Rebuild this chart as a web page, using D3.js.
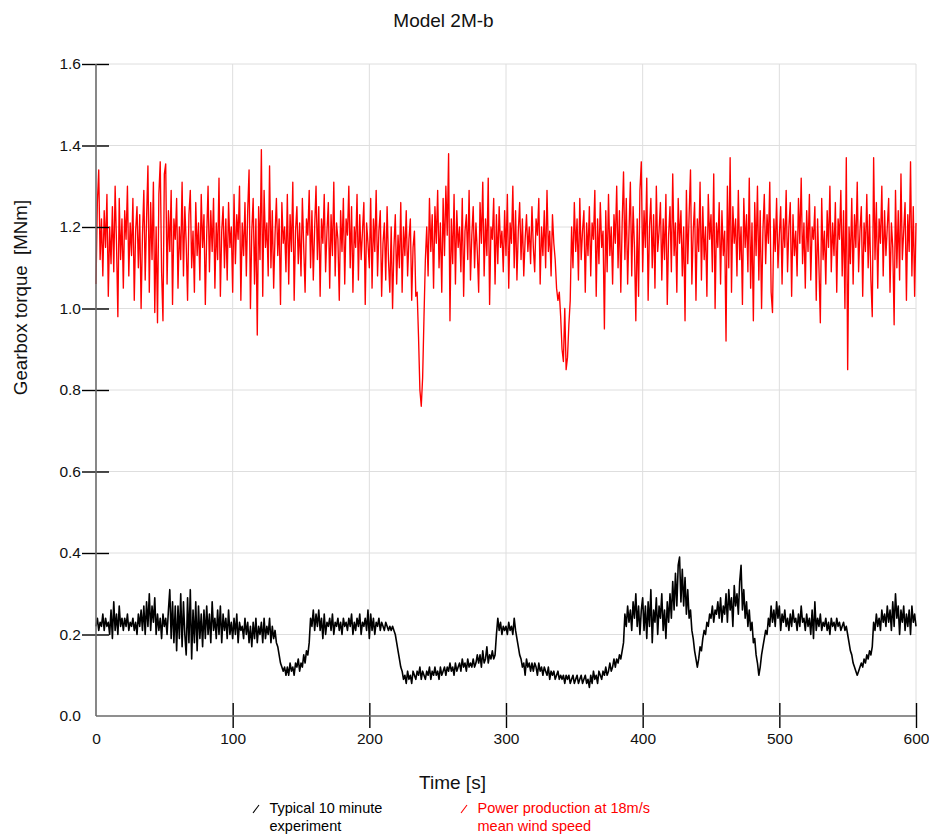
<!DOCTYPE html>
<meta charset="utf-8">
<style>

html,
body {
  margin: 0;
  overflow: hidden;
  background: #fff;
}

text {
  font-family: "Liberation Sans", Arial, sans-serif;
}

.grid line {
  stroke: #dedede;
  stroke-width: 1;
}

.trace {
  fill: none;
  stroke-linejoin: round;
}

</style>
<body>
<script src="https://d3js.org/d3.v7.min.js"></script>
<script>

// one sample per second, 0 .. 600 s
var sampleStep = 1;

var xTicks = [0, 100, 200, 300, 400, 500, 600];
var yTicks = [0, 0.2, 0.4, 0.6, 0.8, 1.0, 1.2, 1.4, 1.6];

// typical 10 minute experiment (MNm)
var experimentTorque = [
  0.22,0.24,0.21,0.23,0.22,0.25,0.21,0.24,0.22,0.23,0.20,0.26,0.19,0.28,0.21,0.25,0.20,0.27,0.22,0.24, // 0
  0.21,0.24,0.22,0.25,0.21,0.23,0.22,0.24,0.21,0.23,0.20,0.25,0.22,0.26,0.21,0.27,0.20,0.28,0.22,0.30, // 20
  0.21,0.27,0.23,0.29,0.20,0.25,0.21,0.24,0.19,0.25,0.22,0.24,0.20,0.26,0.31,0.19,0.28,0.18,0.27,0.16, // 40
  0.27,0.19,0.30,0.17,0.28,0.20,0.15,0.29,0.18,0.31,0.14,0.26,0.18,0.28,0.16,0.27,0.19,0.25,0.17,0.26, // 60
  0.19,0.27,0.20,0.25,0.18,0.28,0.21,0.24,0.19,0.26,0.20,0.27,0.18,0.25,0.21,0.24,0.19,0.26,0.20,0.23, // 80
  0.19,0.24,0.20,0.25,0.18,0.23,0.21,0.22,0.19,0.24,0.20,0.23,0.18,0.22,0.17,0.23,0.19,0.24,0.18,0.22, // 100
  0.20,0.23,0.18,0.24,0.19,0.22,0.20,0.24,0.18,0.22,0.19,0.21,0.18,0.17,0.15,0.13,0.12,0.11,0.12,0.10, // 120
  0.12,0.10,0.13,0.11,0.12,0.10,0.13,0.12,0.14,0.11,0.13,0.12,0.15,0.13,0.16,0.15,0.18,0.24,0.22,0.26, // 140
  0.21,0.25,0.22,0.26,0.21,0.24,0.19,0.25,0.20,0.23,0.22,0.24,0.21,0.25,0.20,0.23,0.22,0.24,0.21,0.23, // 160
  0.20,0.24,0.22,0.23,0.21,0.24,0.22,0.25,0.20,0.23,0.21,0.24,0.22,0.25,0.20,0.23,0.22,0.24,0.21,0.26, // 180
  0.19,0.25,0.21,0.24,0.20,0.23,0.22,0.24,0.21,0.23,0.22,0.21,0.23,0.22,0.21,0.22,0.21,0.22,0.21,0.20, // 200
  0.18,0.16,0.14,0.12,0.11,0.09,0.10,0.08,0.11,0.09,0.10,0.08,0.11,0.10,0.09,0.11,0.10,0.12,0.09,0.11, // 220
  0.10,0.09,0.11,0.10,0.12,0.09,0.11,0.10,0.12,0.10,0.11,0.09,0.12,0.10,0.11,0.12,0.10,0.12,0.11,0.13, // 240
  0.11,0.12,0.10,0.13,0.11,0.12,0.13,0.11,0.14,0.12,0.13,0.11,0.14,0.12,0.13,0.12,0.14,0.12,0.13,0.15, // 260
  0.13,0.15,0.12,0.16,0.13,0.14,0.17,0.13,0.15,0.14,0.16,0.14,0.15,0.20,0.24,0.21,0.23,0.20,0.22,0.21, // 280
  0.22,0.20,0.23,0.21,0.22,0.20,0.24,0.21,0.19,0.17,0.15,0.14,0.12,0.13,0.10,0.14,0.12,0.13,0.11,0.13, // 300
  0.11,0.13,0.12,0.10,0.13,0.11,0.12,0.10,0.12,0.11,0.10,0.12,0.09,0.11,0.10,0.11,0.09,0.10,0.11,0.09, // 320
  0.10,0.09,0.10,0.08,0.10,0.09,0.10,0.08,0.09,0.10,0.08,0.09,0.10,0.08,0.09,0.10,0.08,0.09,0.10,0.08, // 340
  0.09,0.07,0.10,0.08,0.11,0.09,0.10,0.08,0.11,0.10,0.09,0.11,0.10,0.12,0.10,0.11,0.13,0.11,0.12,0.14, // 360
  0.12,0.14,0.13,0.15,0.14,0.16,0.18,0.25,0.22,0.27,0.23,0.26,0.21,0.28,0.24,0.30,0.22,0.27,0.20,0.26, // 380
  0.29,0.21,0.27,0.19,0.28,0.22,0.31,0.18,0.26,0.23,0.29,0.20,0.27,0.24,0.30,0.21,0.26,0.19,0.28,0.23, // 400
  0.30,0.24,0.33,0.26,0.35,0.27,0.37,0.39,0.28,0.36,0.27,0.34,0.25,0.31,0.24,0.26,0.21,0.19,0.16,0.14, // 420
  0.12,0.14,0.17,0.16,0.19,0.21,0.20,0.23,0.22,0.25,0.24,0.27,0.23,0.26,0.25,0.28,0.24,0.29,0.23,0.27, // 440
  0.25,0.30,0.23,0.31,0.26,0.29,0.22,0.32,0.27,0.30,0.25,0.33,0.37,0.26,0.31,0.24,0.28,0.22,0.26,0.21, // 460
  0.23,0.18,0.19,0.15,0.13,0.10,0.12,0.15,0.17,0.19,0.21,0.20,0.24,0.22,0.27,0.23,0.26,0.22,0.28,0.24, // 480
  0.27,0.21,0.25,0.23,0.26,0.22,0.24,0.21,0.25,0.22,0.26,0.23,0.24,0.21,0.25,0.22,0.27,0.23,0.24,0.21, // 500
  0.25,0.22,0.24,0.20,0.26,0.19,0.28,0.21,0.24,0.22,0.25,0.21,0.23,0.22,0.24,0.21,0.23,0.20,0.24,0.22, // 520
  0.23,0.21,0.24,0.22,0.23,0.21,0.22,0.23,0.21,0.22,0.20,0.18,0.16,0.15,0.13,0.12,0.11,0.10,0.11,0.12, // 540
  0.13,0.12,0.14,0.13,0.15,0.14,0.16,0.15,0.17,0.23,0.21,0.25,0.22,0.24,0.21,0.26,0.23,0.25,0.22,0.27, // 560
  0.23,0.26,0.21,0.28,0.22,0.30,0.24,0.27,0.20,0.26,0.23,0.27,0.21,0.25,0.22,0.26,0.20,0.27,0.23,0.25, // 580
  0.22
];

// power production at 18 m/s mean wind speed (MNm)
var powerTorque = [
  1.06,1.26,1.34,1.12,1.22,1.08,1.24,1.15,1.28,1.03,1.20,1.11,1.25,1.09,1.30,1.16,0.98,1.27,1.12,1.22, // 0
  1.05,1.24,1.17,1.30,1.08,1.21,1.13,1.27,1.02,1.19,1.25,1.10,1.23,1.00,1.18,1.29,1.07,1.22,1.35,1.04, // 20
  1.26,1.12,1.31,0.99,1.20,0.965,1.28,1.36,1.09,0.97,1.33,1.355,1.06,1.24,1.14,1.29,1.01,1.22,1.17,1.27, // 40
  1.05,1.20,1.12,1.31,1.08,1.25,1.16,1.02,1.23,1.29,1.10,1.19,1.04,1.26,1.13,1.21,1.07,1.28,1.15,1.23, // 60
  1.01,1.18,1.30,1.09,1.24,1.14,1.27,1.05,1.21,1.12,1.32,1.03,1.19,1.25,1.10,1.22,1.07,1.26,1.15,1.20, // 80
  1.04,1.28,1.11,1.23,1.17,1.30,1.02,1.21,1.13,1.26,1.08,1.24,1.34,1.00,1.19,1.27,1.06,1.22,0.935,1.25, // 100
  1.12,1.39,1.03,1.29,1.15,1.21,1.08,1.35,1.10,1.24,1.05,1.18,1.27,1.13,1.22,1.01,1.26,1.16,1.20,1.09, // 120
  1.28,1.06,1.23,1.14,1.31,1.02,1.19,1.25,1.11,1.21,1.08,1.27,1.15,1.04,1.22,1.18,1.29,1.10,1.24,1.07, // 140
  1.20,1.30,1.12,1.25,1.03,1.22,1.16,1.28,1.09,1.19,1.26,1.05,1.23,1.13,1.31,1.08,1.21,1.17,1.02,1.24, // 160
  1.14,1.27,1.06,1.22,1.18,1.30,1.10,1.25,1.04,1.20,1.15,1.28,1.07,1.23,1.12,1.19,1.26,1.01,1.21,1.16, // 180
  1.10,1.27,1.05,1.22,1.14,1.29,1.08,1.19,1.24,1.03,1.16,1.21,1.07,1.25,1.12,1.04,1.20,1.00,1.15,1.23, // 200
  1.06,1.18,1.10,1.26,1.04,1.20,1.13,1.24,1.08,1.17,1.22,1.02,1.15,1.19,1.03,1.04,0.93,0.80,0.76,0.83, // 220
  0.98,1.12,1.20,1.08,1.27,1.14,1.23,1.05,1.25,1.16,1.29,1.10,1.21,1.04,1.27,1.13,1.30,1.18,1.38,0.97, // 240
  1.22,1.11,1.28,1.06,1.24,1.15,1.20,1.09,1.27,1.03,1.19,1.23,1.12,1.29,1.07,1.18,1.25,1.10,1.21,1.14, // 260
  1.04,1.26,1.16,1.31,1.08,1.22,1.13,1.32,1.01,1.20,1.17,1.27,1.06,1.23,1.11,1.25,1.15,1.19,1.09,1.24, // 280
  1.13,1.28,1.05,1.21,1.16,1.30,1.10,1.24,1.07,1.19,1.26,1.12,1.22,1.08,1.17,1.23,1.14,1.20,1.11,1.25, // 300
  1.15,1.09,1.22,1.18,1.27,1.06,1.20,1.13,1.24,1.10,1.29,1.14,1.19,1.08,1.23,1.16,1.12,1.05,1.02,1.04, // 320
  0.98,0.90,0.87,1.00,0.85,0.88,0.96,1.02,1.20,1.10,1.26,1.14,1.22,1.07,1.27,1.12,1.19,1.24,1.04,1.21, // 340
  1.13,1.25,1.08,1.21,1.17,1.29,1.03,1.22,1.11,1.26,1.15,1.19,0.95,1.24,1.09,1.28,1.13,1.20,1.06,1.23, // 360
  1.16,1.30,1.10,1.24,1.04,1.21,1.335,1.12,1.27,1.06,1.19,1.31,1.08,1.25,1.15,0.97,1.22,1.03,1.29,1.36, // 380
  1.09,1.24,1.15,1.32,1.02,1.20,1.27,1.10,1.23,1.05,1.30,1.14,1.19,1.26,1.07,1.22,1.12,1.28,1.01,1.18, // 400
  1.25,1.09,1.33,1.13,1.21,1.04,1.27,1.16,1.24,1.08,1.20,0.97,1.29,1.11,1.23,1.34,1.06,1.19,1.26,1.02, // 420
  1.22,1.14,1.31,1.07,1.25,1.12,1.20,1.03,1.28,1.17,1.23,1.09,1.33,1.00,1.21,1.15,1.26,1.06,1.24,1.13, // 440
  1.19,0.92,1.30,1.10,1.37,1.04,1.25,1.16,1.22,1.08,1.29,1.12,1.20,1.01,1.27,1.15,1.23,1.09,1.32,1.05, // 460
  1.21,0.97,1.26,1.13,1.30,1.07,1.24,1.00,1.19,1.28,1.11,1.23,1.16,1.31,1.04,0.99,1.22,1.14,1.27,1.10, // 480
  1.18,1.25,1.06,1.22,1.15,1.29,1.09,1.20,1.26,1.03,1.23,1.13,1.19,1.08,1.27,1.16,1.32,1.11,1.21,1.05, // 500
  1.24,1.14,1.28,1.07,1.20,1.17,1.25,1.02,1.22,1.10,0.965,1.27,1.12,1.19,1.06,1.24,1.15,1.30,1.09,1.21, // 520
  1.13,1.26,1.04,1.22,1.17,1.29,1.08,1.24,1.00,1.37,0.85,1.20,1.11,1.27,1.06,1.23,1.15,1.31,1.09,1.19, // 540
  1.25,1.03,1.21,1.14,1.28,1.10,1.23,1.07,0.98,1.37,1.12,1.26,1.05,1.22,1.16,1.30,1.08,1.24,1.13,1.20, // 560
  1.27,1.04,1.21,1.15,0.96,1.29,1.10,1.24,1.07,1.33,1.12,1.19,1.26,1.02,1.23,1.14,1.36,1.08,1.25,1.03, // 580
  1.21
];

var width = 929,
  height = 837,
  plotLeft = 96,
  plotRight = 916,
  plotTop = 64,
  plotBottom = 716;

var svg = d3.select("body")
  .append("svg")
  .attr("width", width)
  .attr("height", height)
  .style("background", "#fff");

var x = d3.scaleLinear().domain([0, 600]).range([plotLeft, plotRight]);
var y = d3.scaleLinear().domain([0, 1.6]).range([plotBottom, plotTop]);

// grid
var grid = svg.append("g").attr("class", "grid");

grid.selectAll(".vgrid")
  .data(xTicks.filter(function(d) { return d > 0; }))
  .enter().append("line")
  .attr("x1", function(d) { return x(d); })
  .attr("x2", function(d) { return x(d); })
  .attr("y1", plotTop)
  .attr("y2", plotBottom);

grid.selectAll(".hgrid")
  .data(yTicks.filter(function(d) { return d > 0; }))
  .enter().append("line")
  .attr("x1", plotLeft)
  .attr("x2", plotRight)
  .attr("y1", function(d) { return y(d); })
  .attr("y2", function(d) { return y(d); });

// traces
var line = d3.line()
  .x(function(d, i) { return x(i * sampleStep); })
  .y(function(d) { return y(d); });

svg.append("path")
  .datum(powerTorque)
  .attr("class", "trace")
  .attr("stroke", "#ff0000")
  .attr("stroke-width", 1.35)
  .attr("d", line);

svg.append("path")
  .datum(experimentTorque)
  .attr("class", "trace")
  .attr("stroke", "#000")
  .attr("stroke-width", 1.6)
  .attr("d", line);

// axes
var yAxis = svg.append("g")
  .attr("transform", "translate(" + plotLeft + ",0)")
  .call(d3.axisLeft(y).tickValues(yTicks).tickFormat(d3.format(".1f")).tickSize(14).tickPadding(1));

var xAxis = svg.append("g")
  .attr("transform", "translate(0," + plotBottom + ")")
  .call(d3.axisBottom(x).tickValues(xTicks).tickFormat(d3.format("d")).tickSize(12).tickPadding(5));

[yAxis, xAxis].forEach(function(g) {
  g.select(".domain").remove();
  g.attr("font-family", null).attr("font-size", null);
  g.selectAll(".tick text").attr("fill", "#111").style("font-size", "15.5px");
  g.selectAll(".tick line")
    .attr("stroke", "#000")
    .attr("stroke-width", 1.4)
    .style("display", function(d) { return d === 0 ? "none" : null; });
});

yAxis.selectAll(".tick line").attr("x1", 13);
xAxis.selectAll(".tick line").attr("y1", -13);

svg.append("line")
  .attr("x1", plotLeft).attr("x2", plotLeft)
  .attr("y1", plotTop).attr("y2", plotBottom)
  .attr("stroke", "#6a6a6a")
  .attr("stroke-width", 1.6);

svg.append("line")
  .attr("x1", plotLeft).attr("x2", plotRight)
  .attr("y1", plotBottom).attr("y2", plotBottom)
  .attr("stroke", "#6a6a6a")
  .attr("stroke-width", 1.6);

// titles
svg.append("text")
  .attr("x", 443.5)
  .attr("y", 26.5)
  .attr("text-anchor", "middle")
  .style("font-size", "19px")
  .attr("fill", "#111")
  .text("Model 2M-b");

svg.append("text")
  .attr("transform", "translate(27,297.5) rotate(-90)")
  .attr("text-anchor", "middle")
  .style("font-size", "18.7px")
  .style("white-space", "pre")
  .attr("fill", "#111")
  .text("Gearbox torque  [MNm]");

svg.append("text")
  .attr("x", 452.5)
  .attr("y", 789)
  .attr("text-anchor", "middle")
  .style("font-size", "19px")
  .attr("fill", "#111")
  .text("Time [s]");

// legend
var legendItems = [
  {lines: ["Typical 10 minute", "experiment"], color: "#000", x: 253},
  {lines: ["Power production at 18m/s", "mean wind speed"], color: "#ff0000", x: 461}
];

var legend = svg.selectAll(".legend")
  .data(legendItems)
  .enter().append("g")
  .attr("class", "legend")
  .attr("transform", function(d) { return "translate(" + d.x + ",0)"; });

legend.append("line")
  .attr("x1", 0).attr("y1", 813)
  .attr("x2", 6).attr("y2", 805)
  .attr("stroke", function(d) { return d.color; })
  .attr("stroke-width", 1.1);

legend.append("text")
  .attr("x", 16.5)
  .attr("y", 813)
  .style("font-size", "14.5px")
  .attr("fill", function(d) { return d.color; })
  .selectAll("tspan")
  .data(function(d) { return d.lines; })
  .enter().append("tspan")
  .attr("x", 16.5)
  .attr("dy", function(d, i) { return i ? 18 : 0; })
  .text(function(d) { return d; });

</script>
